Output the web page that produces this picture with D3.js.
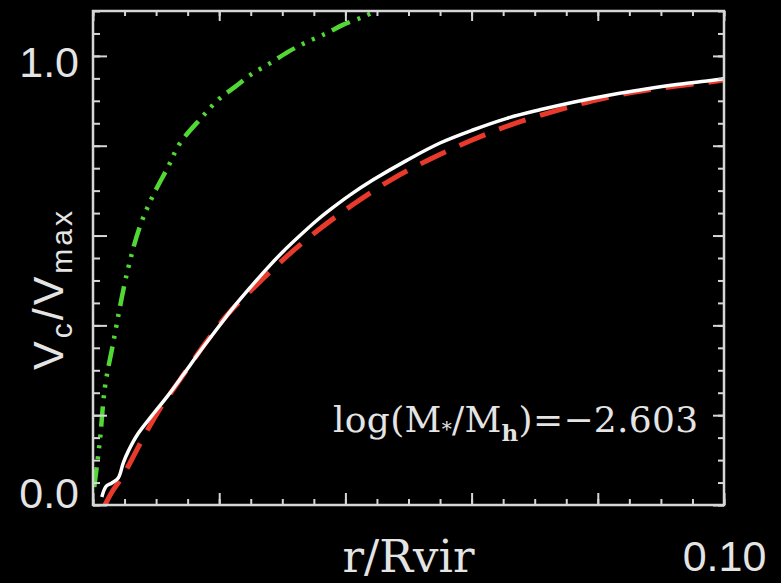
<!DOCTYPE html>
<html>
<head>
<meta charset="utf-8">
<script src="https://cdn.jsdelivr.net/npm/d3@7"></script>
<style>
  html, body { margin: 0; padding: 0; background: #000; }
  svg { display: block; }
</style>
</head>
<body>
<div id="chart"></div>
<script>
// r/Rvir and Vc/Vmax
const greenR = [0.0002, 0.0011, 0.0019, 0.0032, 0.0054, 0.0074, 0.0094, 0.0119, 0.0138, 0.0173,
                0.0198, 0.0225, 0.0252, 0.0281, 0.0309, 0.0339, 0.0371, 0.0396, 0.0428, 0.0452];
const greenV = [0.040, 0.145, 0.263, 0.361, 0.517, 0.619, 0.686, 0.753, 0.806, 0.864,
                0.902, 0.931, 0.960, 0.984, 1.009, 1.031, 1.051, 1.069, 1.087, 1.102];

const whiteR = [0.0014, 0.0021, 0.0030, 0.0040, 0.0048, 0.0056, 0.0071, 0.0094, 0.0119, 0.0143,
                0.0170, 0.0197, 0.0222, 0.0249, 0.0276, 0.0301, 0.0328, 0.0355, 0.0380, 0.0407,
                0.0444, 0.0498, 0.0550, 0.0602, 0.0656, 0.0708, 0.0761, 0.0815, 0.0867, 0.0919,
                0.0973, 0.1000];
const whiteV = [0.018, 0.042, 0.049, 0.060, 0.094, 0.120, 0.158, 0.200, 0.244, 0.290,
                0.343, 0.393, 0.439, 0.484, 0.527, 0.564, 0.600, 0.634, 0.662, 0.690,
                0.724, 0.768, 0.806, 0.835, 0.861, 0.880, 0.897, 0.912, 0.924, 0.935,
                0.944, 0.949];

const redR = [0.0019, 0.0030, 0.0046, 0.0067, 0.0082, 0.0109, 0.0130, 0.0154, 0.0178, 0.0212,
              0.0249, 0.0301, 0.0355, 0.0412, 0.0471, 0.0534, 0.0598, 0.0661, 0.0729, 0.0792,
              0.0856, 0.0919, 0.0989, 0.1000];
const redV = [0.000, 0.029, 0.062, 0.116, 0.156, 0.221, 0.263, 0.312, 0.360, 0.422,
              0.476, 0.546, 0.610, 0.669, 0.723, 0.770, 0.811, 0.846, 0.876, 0.900,
              0.919, 0.932, 0.944, 0.947];

const xMajor = [0, 0.02, 0.04, 0.06, 0.08, 0.10];
const xMinor = d3.range(0, 21).map(i => i * 0.005);
const yMajor = [0, 0.2, 0.4, 0.6, 0.8, 1.0];
const yMinor = d3.range(0, 23).map(i => i * 0.05);
const xLabels = [0.10];
const yLabels = [0.0, 1.0];

const width = 781, height = 583;
const margin = { top: 11, right: 57, bottom: 78, left: 93 };
const axisColor = "#d6d6d6";
const numFont = "'Liberation Sans', Arial, sans-serif";
const serif = "'DejaVu Serif', 'Liberation Serif', serif";

const svg = d3.select("#chart").append("svg")
    .attr("width", width)
    .attr("height", height)
    .style("background", "#000");

const x = d3.scaleLinear().domain([0, 0.1]).range([margin.left, width - margin.right]);
const y = d3.scaleLinear().domain([0, 1.1]).range([height - margin.bottom, margin.top]);

svg.append("clipPath").attr("id", "plot")
    .append("rect")
    .attr("x", margin.left).attr("y", margin.top)
    .attr("width", width - margin.left - margin.right)
    .attr("height", height - margin.top - margin.bottom);

const line = d3.line()
    .x(d => x(d[0]))
    .y(d => y(d[1]))
    .curve(d3.curveCatmullRom);

const curves = svg.append("g").attr("clip-path", "url(#plot)");

curves.append("path")
    .datum(d3.zip(greenR, greenV))
    .attr("fill", "none")
    .attr("stroke", "#52d835")
    .attr("stroke-width", 4.5)
    .attr("stroke-dasharray", "20,8,3,8,3,8,3,8")
    .attr("d", line);

curves.append("path")
    .datum(d3.zip(redR, redV))
    .attr("fill", "none")
    .attr("stroke", "#e8392b")
    .attr("stroke-width", 5)
    .attr("stroke-dasharray", "28,15")
    .attr("d", line);

curves.append("path")
    .datum(d3.zip(whiteR, whiteV))
    .attr("fill", "none")
    .attr("stroke", "#ffffff")
    .attr("stroke-width", 3.5)
    .attr("d", line);

// ticks on all four sides, pointing inward
function ticks(axis, transform) {
    const g = svg.append("g").attr("transform", transform).call(axis);
    g.select(".domain").remove();
    g.selectAll("line").attr("stroke", axisColor).attr("stroke-width", 2);
    return g;
}

const bottomY = y(0), topY = y(1.1), leftX = x(0), rightX = x(0.1);

ticks(d3.axisBottom(x).tickValues(xMinor).tickSize(-6).tickFormat(""), `translate(0,${bottomY})`);
ticks(d3.axisBottom(x).tickValues(xMajor).tickSize(-12).tickFormat(""), `translate(0,${bottomY})`);
ticks(d3.axisTop(x).tickValues(xMinor).tickSize(-5).tickFormat(""), `translate(0,${topY})`);
ticks(d3.axisTop(x).tickValues(xMajor).tickSize(-10).tickFormat(""), `translate(0,${topY})`);
ticks(d3.axisLeft(y).tickValues(yMinor).tickSize(-7).tickFormat(""), `translate(${leftX},0)`);
ticks(d3.axisLeft(y).tickValues(yMajor).tickSize(-14).tickFormat(""), `translate(${leftX},0)`);
ticks(d3.axisRight(y).tickValues(yMinor).tickSize(-6).tickFormat(""), `translate(${rightX},0)`);
ticks(d3.axisRight(y).tickValues(yMajor).tickSize(-11).tickFormat(""), `translate(${rightX},0)`);

// frame
svg.append("rect")
    .attr("x", leftX).attr("y", topY)
    .attr("width", rightX - leftX).attr("height", bottomY - topY)
    .attr("fill", "none")
    .attr("stroke", axisColor)
    .attr("stroke-width", 2.5);

// tick labels
const xl = svg.append("g").attr("transform", `translate(0,${bottomY})`)
    .call(d3.axisBottom(x).tickValues(xLabels).tickSize(0).tickPadding(35).tickFormat(d3.format(".2f")));
xl.select(".domain").remove();
xl.selectAll("text")
    .attr("fill", "#e4e4e4")
    .style("font-family", numFont)
    .style("font-size", "43px");

const yl = svg.append("g").attr("transform", `translate(${leftX},0)`)
    .call(d3.axisLeft(y).tickValues(yLabels).tickSize(0).tickPadding(14).tickFormat(d3.format(".1f")));
yl.select(".domain").remove();
yl.selectAll("text")
    .attr("fill", "#e4e4e4")
    .attr("dy", d => d === 0 ? "0.05em" : "0.47em")
    .style("font-family", numFont)
    .style("font-size", "43px");

// axis titles
svg.append("text")
    .attr("x", (leftX + rightX) / 2)
    .attr("y", 572)
    .attr("text-anchor", "middle")
    .attr("fill", "#e4e4e4")
    .style("font-family", serif)
    .style("font-size", "45px")
    .text("r/Rvir");

const yt = svg.append("text")
    .attr("transform", "translate(63,370) rotate(-90)")
    .attr("fill", "#e4e4e4")
    .style("font-family", numFont)
    .style("font-size", "43px")
    .style("letter-spacing", "3px");
yt.append("tspan").text("V");
yt.append("tspan").attr("dy", 9).style("font-size", "30px").text("c");
yt.append("tspan").attr("dy", -9).text("/V");
yt.append("tspan").attr("dy", 9).style("font-size", "30px").text("max");

// annotation
const ann = svg.append("text")
    .attr("x", 333)
    .attr("y", 432)
    .attr("fill", "#e4e4e4")
    .style("font-family", serif)
    .style("font-size", "36px")
    .style("letter-spacing", "0.3px");
ann.append("tspan").text("log(M");
ann.append("tspan").attr("dy", 4).style("font-size", "20px").text("*");
ann.append("tspan").attr("dy", -4).text("/M");
ann.append("tspan").attr("dy", 9).style("font-size", "23px").style("font-weight", "bold").text("h");
ann.append("tspan").attr("dy", -9).text(")=\u22122.603");
</script>
</body>
</html>
